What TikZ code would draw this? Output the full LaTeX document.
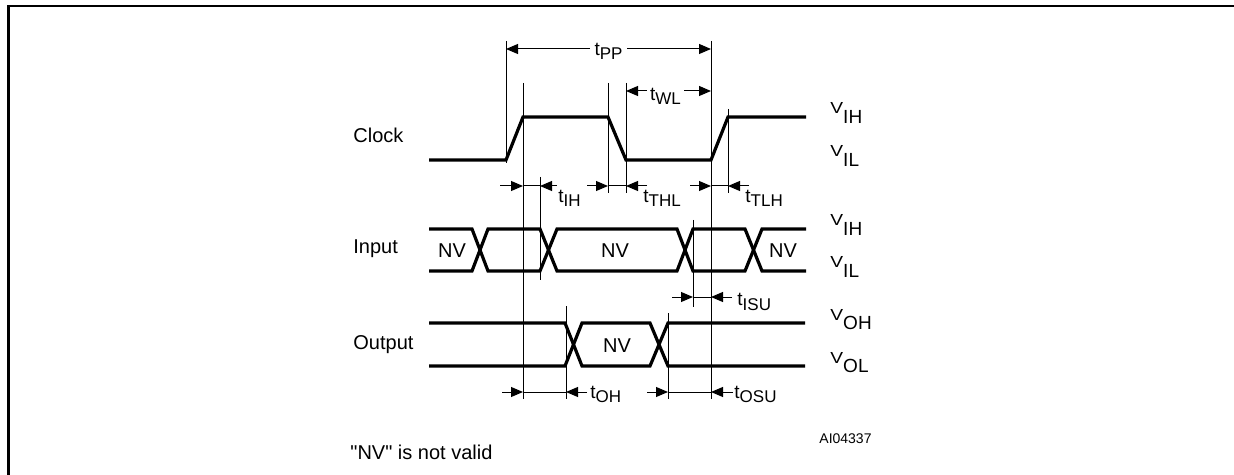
\documentclass[tikz,border=0pt]{standalone}
\usepackage{fontspec}
\setmainfont{Liberation Sans}[Ligatures=TeXOff]
\usetikzlibrary{arrows.meta}
\usetikzlibrary{calc}
\tikzset{sinal/.style={line width=1.6pt}}
\tikzset{guia/.style={line width=0.5pt}}
\tikzset{cota/.style={line width=0.5pt,-{Triangle[length=6pt,width=5pt]}}}
\tikzset{cotadupla/.style={line width=0.5pt,{Triangle[length=6pt,width=5pt]}-{Triangle[length=6pt,width=5pt]}}}
\tikzset{moldura/.style={line width=1.35pt}}
\tikzset{rotulo/.style={font=\fontsize{10}{12}\selectfont,inner sep=0pt}}
\newcommand{\tsub}[1]{{\fontsize{9.5}{11}\selectfont t}\raisebox{-2pt}{\fontsize{8.5}{10}\selectfont #1}}
\newcommand{\vsub}[1]{{\fontsize{8}{9}\selectfont\scalebox{1.2}[1]{V}}\raisebox{-4.6pt}{\fontsize{9.5}{11}\selectfont #1}}

\begin{document}
\begin{tikzpicture}[x=0.5pt,y=-0.5pt]
	\useasboundingbox (0,0) rectangle (1234,475);

	% A moldura
	\draw [moldura] (8.5,475) -- (8.5,6) -- (1234,6);

	% Os sinais
	\draw [sinal] (429,160) -- (506,160) -- (523,117) -- (608,117) -- (626,160)
		-- (711,160) -- (728,117) -- (806,117);
	\draw [sinal] (429,229) -- (472,229) -- (488,271) -- (540,271) -- (557,229)
		-- (677,229) -- (693,271) -- (745,271) -- (762,229) -- (806,229);
	\draw [sinal] (429,271) -- (472,271) -- (488,229) -- (540,229) -- (557,271)
		-- (677,271) -- (693,229) -- (745,229) -- (762,271) -- (806,271);
	\draw [sinal] (429,323) -- (565,323) -- (582,366) -- (650,366) -- (668,323) -- (805,323);
	\draw [sinal] (429,366) -- (565,366) -- (582,323) -- (650,323) -- (668,366) -- (805,366);

	% Linhas de referencia
	\foreach \x/\ya/\yb in {506/41/163, 523/83/399, 540/177/280, 608/83/193, 626/83/193,
		711/41/399, 728/109/193, 693/220/307, 566/306/399, 668/313/399}
		\draw [guia] (\x,\ya) -- (\x,\yb);

	% Cotas
	\draw [cotadupla] (506,49) -- (711,49);
	\draw [cotadupla] (626,91) -- (711,91);
	\foreach \y/\xa/\xi/\xj/\xb in {186/500/523/540/557, 186/587/608/626/647,
		186/690/711/728/749, 297/672/693/711/732, 392/502/523/566/587, 392/647/668/711/733} {
		\draw [guia] (\xi,\y) -- (\xj,\y);
		\draw [cota] (\xa,\y) -- (\xi,\y);
		\draw [cota] (\xb,\y) -- (\xj,\y);
	}

	% Tempos
	\node [rotulo,fill=white,inner xsep=2.5pt,inner ysep=1pt,anchor=base] (tpp) at (608.5,56) {\tsub{PP}};
	\node [rotulo,fill=white,inner xsep=1.5pt,inner ysep=1pt,anchor=base] (twl) at (665.5,101) {\tsub{WL}};
	\node [rotulo,anchor=base west] (tih) at (558,203) {\tsub{IH}};
	\node [rotulo,anchor=base west] (tthl) at (643,203) {\tsub{THL}};
	\node [rotulo,anchor=base west] (ttlh) at (745,203) {\tsub{TLH}};
	\node [rotulo,anchor=base west] (tisu) at (737,306) {\tsub{ISU}};
	\node [rotulo,anchor=base west] (toh) at (590,398) {\tsub{OH}};
	\node [rotulo,anchor=base west] (tosu) at (734,398) {\tsub{OSU}};

	% Nomes dos sinais
	\node [rotulo,anchor=base west] (clk) at (353,143) {Clock};
	\node [rotulo,anchor=base west] (inp) at (353,254) {Input};
	\node [rotulo,anchor=base west] (out) at (353,349) {Output};

	% Niveis
	\node [rotulo,anchor=base west] (vih1) at (830,114) {\vsub{IH}};
	\node [rotulo,anchor=base west] (vil1) at (830,157) {\vsub{IL}};
	\node [rotulo,anchor=base west] (vih2) at (830,226) {\vsub{IH}};
	\node [rotulo,anchor=base west] (vil2) at (830,268) {\vsub{IL}};
	\node [rotulo,anchor=base west] (voh) at (830,320) {\vsub{OH}};
	\node [rotulo,anchor=base west] (vol) at (830,363) {\vsub{OL}};

	% Regioes nao validas
	\node [rotulo] (nv1) at (452,251) {NV};
	\node [rotulo] (nv2) at (615,251) {NV};
	\node [rotulo] (nv3) at (783,251) {NV};
	\node [rotulo] (nv4) at (617,346) {NV};

	% Notas
	\node [rotulo,anchor=base west] (nota) at (350,459) {"NV" is not valid};
	\node [rotulo,font=\fontsize{7}{8}\selectfont,anchor=base west] (ref) at (819,443) {AI04337};
\end{tikzpicture}
\end{document}
